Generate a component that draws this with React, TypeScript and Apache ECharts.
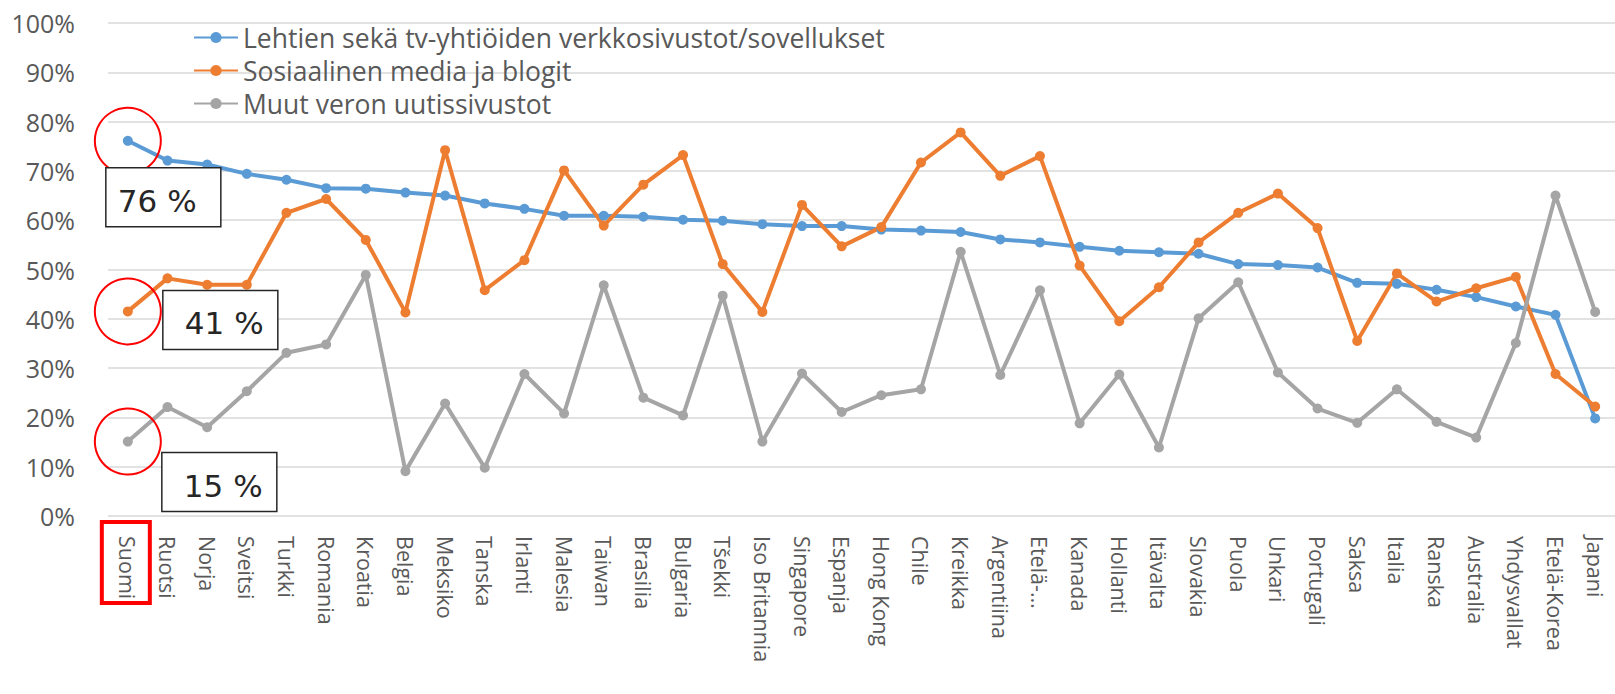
import React, { useEffect, useRef } from "react";
import * as echarts from "echarts";

const categories = [
  "Suomi", "Ruotsi", "Norja", "Sveitsi", "Turkki", "Romania", "Kroatia", "Belgia", "Meksiko", "Tanska",
  "Irlanti", "Malesia", "Taiwan", "Brasilia", "Bulgaria", "Tšekki", "Iso Britannia", "Singapore", "Espanja", "Hong Kong",
  "Chile", "Kreikka", "Argentiina", "Etelä-…", "Kanada", "Hollanti", "Itävalta", "Slovakia", "Puola", "Unkari",
  "Portugali", "Saksa", "Italia", "Ranska", "Australia", "Yhdysvallat", "Etelä-Korea", "Japani",
];

const webNews = [
  76.1, 72.1, 71.3, 69.4, 68.2, 66.5, 66.4, 65.6, 65.0, 63.4,
  62.3, 60.9, 60.9, 60.7, 60.1, 59.9, 59.2, 58.8, 58.8, 58.1,
  57.9, 57.6, 56.1, 55.5, 54.6, 53.8, 53.5, 53.2, 51.1, 50.9,
  50.4, 47.3, 47.1, 45.9, 44.4, 42.5, 40.8, 19.8,
];

const socialMedia = [
  41.5, 48.2, 46.9, 46.9, 61.5, 64.3, 56.0, 41.3, 74.2, 45.8,
  51.9, 70.1, 58.9, 67.2, 73.2, 51.1, 41.4, 63.1, 54.7, 58.6,
  71.7, 77.8, 69.0, 73.0, 50.8, 39.5, 46.4, 55.5, 61.5, 65.4,
  58.4, 35.5, 49.2, 43.5, 46.2, 48.5, 28.8, 22.2,
];

const otherNews = [
  15.1, 22.1, 18.0, 25.3, 33.1, 34.8, 48.9, 9.1, 22.8, 9.8,
  28.8, 20.8, 46.8, 24.0, 20.4, 44.7, 15.1, 28.9, 21.1, 24.5,
  25.7, 53.6, 28.6, 45.8, 18.8, 28.7, 13.9, 40.1, 47.4, 29.1,
  21.8, 18.9, 25.7, 19.1, 15.9, 35.1, 65.0, 41.4,
];

const seriesNames = [
  "Lehtien sekä tv-yhtiöiden verkkosivustot/sovellukset",
  "Sosiaalinen media ja blogit",
  "Muut veron uutissivustot",
];

const calloutLabels = ["76 %", "41 %", "15 %"];

const colors = ["#5B9BD5", "#ED7D31", "#A5A5A5"];
const FONT = "'Open Sans', 'Noto Sans', sans-serif";

export default function App() {
  const ref = useRef<HTMLDivElement>(null);

  useEffect(() => {
    const chart = echarts.init(ref.current!, null, { renderer: "svg" });
    const mkSeries = (name: string, data: number[], color: string) => ({
      name,
      type: "line",
      data,
      symbol: "circle",
      symbolSize: 10,
      showSymbol: true,
      color,
      lineStyle: { width: 4, color },
      itemStyle: { color },
      z: 3,
    });
    chart.setOption({
      animation: false,
      backgroundColor: "#ffffff",
      textStyle: { fontFamily: FONT },
      grid: { left: 108, top: 23, height: 493, width: 1516 },
      legend: {
        orient: "vertical",
        left: 193,
        top: 21,
        padding: 0,
        itemGap: 0,
        itemWidth: 44,
        itemHeight: 14,
        textStyle: { fontSize: 26.5, color: "#595959", fontFamily: FONT, lineHeight: 33 },
        data: seriesNames,
      },
      xAxis: {
        type: "category",
        data: categories,
        boundaryGap: true,
        axisLine: { show: false },
        axisTick: { show: false },
        axisLabel: {
          rotate: -90,
          interval: 0,
          margin: 20,
          fontSize: 21.5,
          color: "#595959",
          fontFamily: FONT,
        },
      },
      yAxis: {
        type: "value",
        min: 0,
        max: 100,
        interval: 10,
        axisLine: { show: false },
        axisTick: { show: false },
        axisLabel: { formatter: "{value}%", fontSize: 25, color: "#595959", margin: 33, fontFamily: FONT },
        splitLine: { lineStyle: { color: "#D9D9D9", width: 1.5 } },
      },
      series: [
        mkSeries(seriesNames[0], webNews, colors[0]),
        mkSeries(seriesNames[1], socialMedia, colors[1]),
        mkSeries(seriesNames[2], otherNews, colors[2]),
      ],
    });

    const seriesData = [webNews, socialMedia, otherNews];
    const pts = seriesData.map((d) => chart.convertToPixel({ gridIndex: 0 }, [0, d[0]]) as number[]);
    const base = chart.convertToPixel({ gridIndex: 0 }, [0, 0]) as number[];
    const boxOffsets = [
      { dx: -22, dy: 27, tx: 12 },
      { dx: 35, dy: -21, tx: 22 },
      { dx: 34, dy: 11, tx: 22 },
    ];
    const graphic: any[] = [];
    pts.forEach((p, i) => {
      graphic.push({
        type: "circle",
        shape: { cx: p[0], cy: p[1], r: 33 },
        style: { fill: "none", stroke: "#FF0000", lineWidth: 2 },
        z: 10,
      });
      const bx = p[0] + boxOffsets[i].dx;
      const by = p[1] + boxOffsets[i].dy;
      graphic.push({
        type: "rect",
        shape: { x: bx, y: by, width: 115, height: 59 },
        style: { fill: "#ffffff", stroke: "#262626", lineWidth: 1.5 },
        z: 10,
      });
      graphic.push({
        type: "text",
        x: bx + boxOffsets[i].tx,
        y: by + 33,
        style: {
          text: calloutLabels[i],
          font: "31px 'DejaVu Sans', sans-serif",
          fill: "#262626",
          verticalAlign: "middle",
          align: "left",
        },
        z: 11,
      });
    });
    graphic.push({
      type: "rect",
      shape: { x: base[0] - 26, y: base[1] + 6, width: 48, height: 81 },
      style: { fill: "none", stroke: "#FF0000", lineWidth: 4 },
      z: 10,
    });
    chart.setOption({ graphic });

    return () => chart.dispose();
  }, []);

  return (
    <div
      ref={ref}
      style={{ position: "fixed", left: 0, top: 0, width: 1615, height: 694, background: "#fff" }}
    />
  );
}
